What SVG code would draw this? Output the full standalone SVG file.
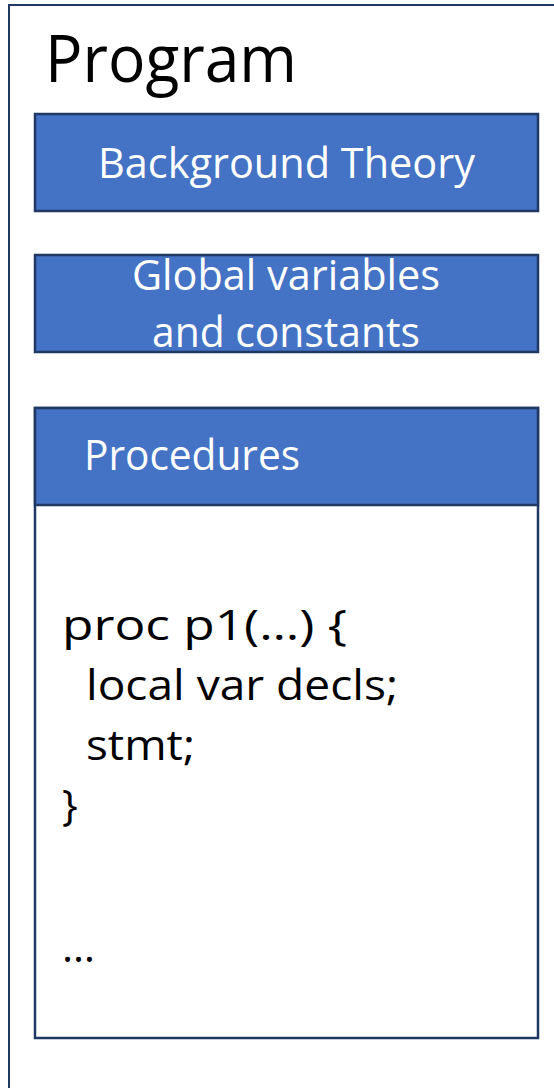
<svg xmlns="http://www.w3.org/2000/svg" width="554" height="1088" viewBox="0 0 554 1088">
<style>
.frame{fill:#FFFFFF;stroke:#1F3864;stroke-width:2}
.box{fill:#4472C4;stroke:#1F3864;stroke-width:2.5}
.body{fill:#FFFFFF;stroke:#1F3864;stroke-width:2.5}
.wt{font-family:"Open Sans","Liberation Sans",sans-serif;font-size:42px;fill:#FFFFFF}
.bt{font-family:"Open Sans","Liberation Sans",sans-serif;font-size:42px;fill:#000000}
.title{font-family:"Open Sans","Liberation Sans",sans-serif;font-size:66px;fill:#000000}
</style>
<rect width="554" height="1088" fill="#FFFFFF"/>
<g id="program">
<rect class="frame" x="9" y="5" width="560" height="1100"/>
<text class="title" x="45" y="82" textLength="252" lengthAdjust="spacingAndGlyphs">Program</text>
</g>
<g id="background-theory">
<rect class="box" x="35" y="114" width="503" height="97"/>
<text class="wt" x="98" y="178" textLength="377" lengthAdjust="spacingAndGlyphs">Background Theory</text>
</g>
<g id="global-variables">
<rect class="box" x="35" y="255" width="503" height="97"/>
<text class="wt" x="132" y="290" textLength="308" lengthAdjust="spacingAndGlyphs">Global variables</text>
<text class="wt" x="152" y="347" textLength="268" lengthAdjust="spacingAndGlyphs">and constants</text>
</g>
<g id="procedures">
<rect class="body" x="35" y="408" width="503" height="630"/>
<rect class="box" x="35" y="408" width="503" height="97"/>
<text class="wt" x="84" y="470" textLength="216" lengthAdjust="spacingAndGlyphs">Procedures</text>
<text class="bt" x="62" y="640" textLength="285" lengthAdjust="spacingAndGlyphs">proc p1(…) {</text>
<text class="bt" x="86" y="700" textLength="312" lengthAdjust="spacingAndGlyphs">local var decls;</text>
<text class="bt" x="86" y="760" textLength="109" lengthAdjust="spacingAndGlyphs">stmt;</text>
<text class="bt" x="62" y="820">}</text>
<text class="bt" x="62" y="962" textLength="33" lengthAdjust="spacingAndGlyphs">…</text>
</g>
<g id="connectors"></g>
</svg>
